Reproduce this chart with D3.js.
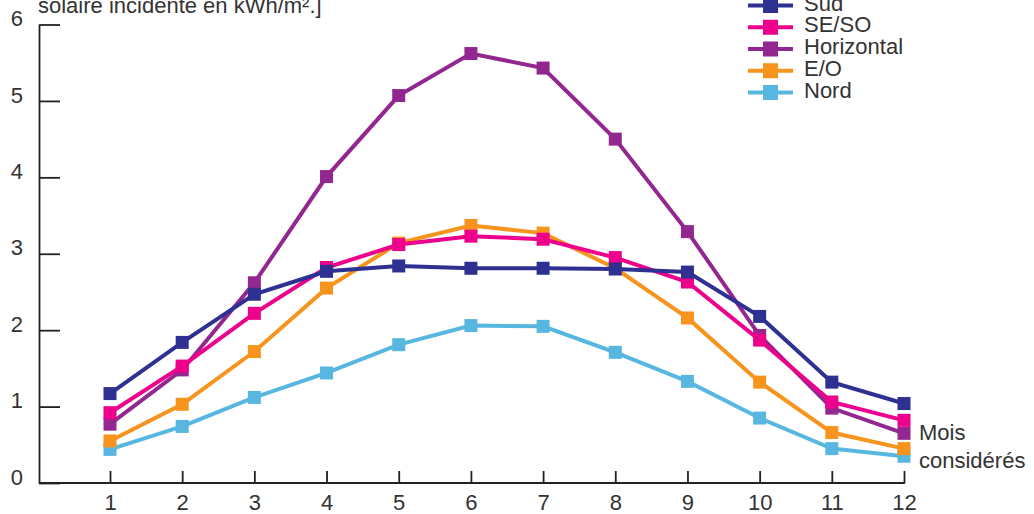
<!DOCTYPE html>
<html>
<head>
<meta charset="utf-8">
<script src="https://cdn.jsdelivr.net/npm/d3@7"></script>
<style>
  body { margin: 0; background: #fff; }
  svg text { font-family: "Liberation Sans", Arial, sans-serif; fill: #333; }
</style>
</head>
<body>
<svg width="1034" height="514"></svg>
<script>
// months 1..12
var months = [1, 2, 3, 4, 5, 6, 7, 8, 9, 10, 11, 12];
var yTicks = [0, 1, 2, 3, 4, 5, 6];

var seriesNames = ["Sud", "SE/SO", "Horizontal", "E/O", "Nord"];
var seriesColors = ["#2e3192", "#ec008c", "#92278f", "#f7941d", "#58b7e0"];

var sud        = [1.17, 1.84, 2.47, 2.77, 2.84, 2.81, 2.81, 2.80, 2.76, 2.18, 1.32, 1.04];
var seso       = [0.92, 1.53, 2.22, 2.82, 3.12, 3.23, 3.19, 2.95, 2.63, 1.87, 1.06, 0.82];
var horizontal = [0.77, 1.48, 2.62, 4.01, 5.07, 5.62, 5.43, 4.50, 3.29, 1.93, 0.98, 0.65];
var eo         = [0.55, 1.03, 1.72, 2.55, 3.14, 3.37, 3.27, 2.81, 2.16, 1.32, 0.66, 0.45];
var nord       = [0.44, 0.74, 1.12, 1.44, 1.81, 2.06, 2.05, 1.71, 1.33, 0.85, 0.45, 0.35];

var seriesValues = [sud, seso, horizontal, eo, nord];

var svg = d3.select("svg"),
    axisX = 39,
    fs = 22;

var x = d3.scaleLinear()
    .domain([1, 12])
    .range([110, 904]);

var y = d3.scaleLinear()
    .domain([0, 6])
    .range([483, 24.5]);

// title (second line, first one is cut off)
svg.append("text")
    .attr("x", 38)
    .attr("y", 13)
    .attr("font-size", fs)
    .text("solaire incidente en kWh/m².]");

// y axis
var gy = svg.append("g")
    .attr("transform", "translate(" + axisX + ",0)")
    .call(d3.axisLeft(y)
        .tickValues(yTicks)
        .tickFormat(d3.format("d"))
        .tickSize(-21)
        .tickSizeOuter(0)
        .tickPadding(16));
gy.select(".domain").attr("stroke", "#222").attr("stroke-width", 1.8);
gy.selectAll(".tick line").attr("stroke", "#222").attr("stroke-width", 1.8);
gy.selectAll(".tick text")
    .attr("font-size", fs)
    .attr("dy", "0.05em");

// x axis
var gx = svg.append("g")
    .attr("transform", "translate(0," + y(0) + ")")
    .call(d3.axisBottom(x)
        .tickValues(months)
        .tickFormat(d3.format("d"))
        .tickSize(-12)
        .tickSizeOuter(0)
        .tickPadding(11));
gx.select(".domain").remove();
gx.selectAll(".tick line").attr("stroke", "#222").attr("stroke-width", 1.8);
gx.selectAll(".tick text").attr("font-size", fs);

svg.append("line")
    .attr("x1", axisX)
    .attr("x2", x(12) + 1)
    .attr("y1", y(0))
    .attr("y2", y(0))
    .attr("stroke", "#222")
    .attr("stroke-width", 1.8);

// lines, drawn from back to front
var line = d3.line()
    .x(function(d, i) { return x(months[i]); })
    .y(function(d) { return y(d); });

var order = [4, 3, 2, 1, 0];
var ms = 13;

order.forEach(function(k) {
    var g = svg.append("g");
    g.append("path")
        .datum(seriesValues[k])
        .attr("fill", "none")
        .attr("stroke", seriesColors[k])
        .attr("stroke-width", 4)
        .attr("d", line);
    g.selectAll("rect")
        .data(seriesValues[k])
        .enter().append("rect")
        .attr("x", function(d, i) { return x(months[i]) - ms / 2; })
        .attr("y", function(d) { return y(d) - ms / 2; })
        .attr("width", ms)
        .attr("height", ms)
        .attr("fill", seriesColors[k]);
});

// legend
var lg = svg.append("g")
    .attr("transform", "translate(748,5.5)");
seriesNames.forEach(function(name, i) {
    var row = lg.append("g").attr("transform", "translate(0," + (i * 21.75) + ")");
    row.append("line")
        .attr("x1", 0).attr("x2", 45)
        .attr("stroke", seriesColors[i])
        .attr("stroke-width", 4);
    row.append("rect")
        .attr("x", 15).attr("y", -7.5)
        .attr("width", 15).attr("height", 15)
        .attr("fill", seriesColors[i]);
    row.append("text")
        .attr("x", 56)
        .attr("y", 5)
        .attr("font-size", fs)
        .text(name);
});

// x axis caption
svg.append("text")
    .attr("x", 919)
    .attr("y", 440)
    .attr("font-size", fs)
    .text("Mois");
svg.append("text")
    .attr("x", 919)
    .attr("y", 468)
    .attr("font-size", fs)
    .text("considérés");
</script>
</body>
</html>
